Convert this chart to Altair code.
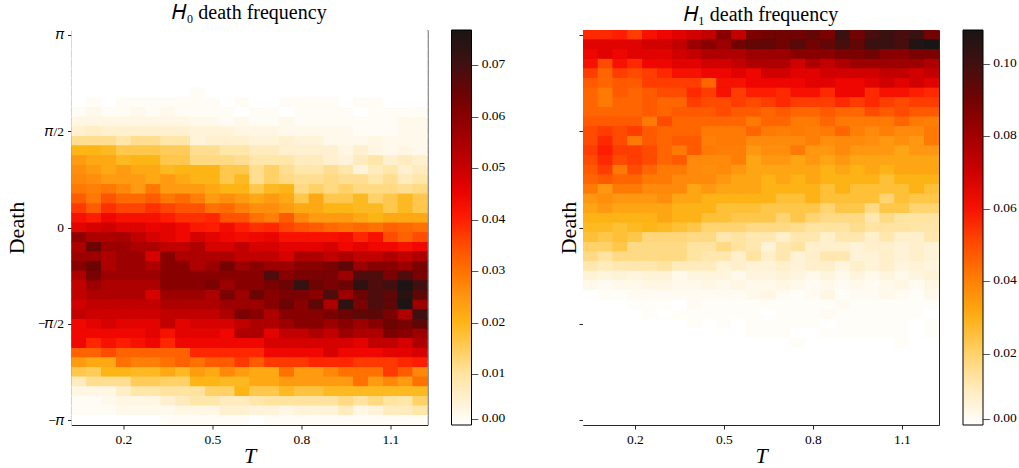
import math
import altair as alt
import pandas as pd

PI = math.pi

# T bin centres (columns) and Death bin centres (rows, top = pi)
t_bins = [0.05, 0.10, 0.15, 0.20, 0.25, 0.30, 0.35, 0.40, 0.45, 0.50, 0.55, 0.60,
          0.65, 0.70, 0.75, 0.80, 0.85, 0.90, 0.95, 1.00, 1.05, 1.10, 1.15, 1.20]
death_bins = [PI * k / 20 for k in range(20, -21, -1)]

# H0 death frequency (units of 1e-3), row 0 = Death pi ... row 40 = Death -pi
h0 = [
    [0] * 24,
    [0] * 24,
    [0] * 24,
    [0] * 24,
    [0] * 24,
    [0] * 24,
    [0, 0, 0, 0, 0, 0, 0, 0, 1, 0, 0, 0, 0, 0, 0, 0, 0, 0, 0, 0, 0, 0, 0, 0],
    [0, 1, 0, 1, 1, 1, 1, 1, 1, 1, 0, 1, 0, 0, 1, 1, 1, 1, 0, 1, 1, 0, 0, 0],
    [1, 2, 1, 1, 2, 1, 2, 1, 1, 1, 1, 0, 1, 1, 0, 1, 1, 1, 1, 0, 1, 1, 1, 1],
    [3, 3, 3, 3, 3, 3, 3, 3, 2, 2, 1, 2, 1, 1, 2, 1, 1, 1, 1, 1, 1, 1, 2, 2],
    [5, 6, 5, 5, 5, 5, 5, 5, 4, 4, 4, 3, 3, 3, 2, 2, 2, 2, 2, 1, 1, 1, 2, 2],
    [11, 11, 11, 9, 11, 11, 9, 9, 4, 5, 5, 5, 4, 4, 5, 4, 4, 2, 2, 2, 3, 2, 2, 2],
    [20, 20, 19, 16, 16, 16, 15, 15, 11, 11, 9, 9, 7, 7, 5, 5, 5, 5, 3, 5, 3, 2, 3, 2],
    [24, 22, 22, 19, 20, 20, 16, 16, 12, 12, 12, 11, 9, 9, 9, 7, 7, 5, 4, 7, 9, 5, 7, 5],
    [26, 24, 22, 24, 22, 22, 19, 20, 20, 20, 16, 16, 11, 14, 11, 9, 9, 11, 9, 4, 7, 9, 5, 7],
    [27, 26, 24, 24, 24, 22, 24, 22, 20, 20, 16, 19, 11, 14, 12, 11, 11, 12, 11, 11, 9, 11, 7, 9],
    [29, 28, 29, 27, 24, 29, 24, 24, 24, 22, 20, 20, 16, 19, 20, 12, 14, 12, 14, 12, 12, 12, 11, 12],
    [33, 29, 34, 31, 31, 33, 29, 31, 28, 24, 26, 24, 22, 24, 22, 16, 22, 16, 16, 19, 14, 16, 19, 16],
    [37, 33, 38, 36, 36, 38, 36, 34, 34, 30, 31, 28, 26, 26, 24, 22, 22, 20, 20, 19, 19, 16, 19, 16],
    [42, 40, 44, 42, 42, 42, 40, 38, 38, 39, 34, 34, 30, 28, 33, 27, 24, 24, 24, 22, 20, 22, 22, 22],
    [46, 48, 49, 47, 47, 45, 46, 44, 41, 40, 43, 40, 38, 39, 36, 34, 33, 31, 30, 31, 30, 32, 31, 30],
    [59, 54, 54, 55, 51, 48, 46, 44, 48, 46, 44, 43, 44, 45, 42, 42, 42, 42, 43, 39, 42, 35, 32, 35],
    [54, 64, 57, 57, 54, 54, 51, 51, 54, 48, 48, 51, 48, 48, 46, 46, 46, 48, 44, 46, 44, 44, 42, 44],
    [57, 57, 54, 57, 57, 48, 60, 54, 54, 54, 54, 51, 51, 51, 48, 54, 54, 51, 54, 51, 51, 54, 51, 54],
    [60, 64, 54, 57, 57, 54, 60, 60, 54, 57, 63, 57, 60, 57, 57, 60, 60, 62, 66, 57, 60, 60, 57, 62],
    [54, 62, 57, 57, 57, 57, 60, 60, 60, 60, 60, 60, 60, 68, 60, 62, 62, 62, 57, 68, 68, 62, 68, 62],
    [51, 57, 54, 54, 54, 54, 60, 60, 60, 62, 57, 60, 60, 62, 64, 72, 64, 62, 64, 73, 68, 70, 76, 70],
    [51, 54, 54, 54, 54, 48, 57, 57, 57, 54, 62, 57, 64, 60, 62, 62, 60, 68, 57, 64, 68, 66, 74, 66],
    [49, 51, 51, 51, 51, 51, 54, 54, 54, 54, 57, 57, 57, 60, 64, 60, 66, 54, 73, 62, 68, 66, 76, 57],
    [51, 49, 49, 49, 49, 49, 51, 51, 51, 51, 54, 62, 60, 54, 60, 60, 60, 62, 64, 66, 66, 62, 54, 70],
    [44, 46, 48, 46, 46, 46, 51, 46, 48, 48, 48, 51, 54, 54, 57, 60, 60, 57, 60, 57, 60, 64, 62, 66],
    [44, 44, 44, 44, 44, 46, 42, 46, 46, 46, 44, 54, 54, 46, 51, 51, 54, 51, 57, 54, 54, 62, 60, 57],
    [44, 39, 42, 40, 42, 44, 39, 44, 44, 44, 44, 44, 44, 48, 48, 48, 48, 48, 48, 46, 51, 51, 48, 54],
    [32, 32, 35, 32, 32, 32, 32, 32, 39, 39, 39, 39, 39, 44, 44, 44, 44, 48, 44, 44, 44, 46, 46, 48],
    [24, 22, 22, 30, 28, 28, 30, 32, 30, 33, 33, 37, 33, 37, 37, 37, 39, 39, 39, 37, 37, 37, 39, 40],
    [16, 15, 20, 20, 19, 19, 22, 19, 24, 22, 27, 24, 22, 22, 30, 24, 24, 27, 30, 30, 30, 37, 33, 27],
    [7, 11, 11, 11, 15, 15, 14, 14, 20, 20, 19, 19, 22, 22, 24, 24, 24, 24, 24, 30, 24, 27, 24, 30],
    [3, 3, 3, 6, 9, 9, 10, 10, 10, 14, 14, 20, 16, 16, 19, 17, 17, 19, 19, 19, 19, 19, 19, 19],
    [1, 1, 2, 3, 3, 3, 5, 7, 9, 9, 7, 7, 9, 10, 10, 10, 10, 10, 12, 10, 12, 10, 9, 14],
    [1, 1, 1, 2, 2, 2, 2, 3, 3, 3, 5, 5, 4, 4, 3, 4, 4, 4, 7, 3, 4, 7, 7, 9],
    [0, 0, 0, 0, 0, 0, 1, 1, 1, 1, 1, 1, 0, 1, 1, 1, 1, 1, 1, 1, 1, 1, 1, 1],
]

# H1 death frequency (units of 1e-3)
h1 = [
    [55, 55, 57, 52, 60, 63, 66, 69, 72, 85, 72, 88, 90, 90, 90, 93, 88, 101, 90, 98, 101, 98, 101, 90],
    [66, 66, 66, 66, 69, 69, 72, 81, 85, 81, 90, 93, 93, 90, 95, 90, 93, 98, 93, 101, 101, 98, 107, 109],
    [63, 66, 63, 66, 66, 66, 69, 72, 77, 77, 77, 81, 81, 81, 85, 85, 85, 88, 88, 90, 85, 85, 88, 88],
    [60, 50, 60, 55, 63, 63, 66, 66, 69, 69, 72, 77, 77, 77, 69, 77, 72, 77, 81, 81, 81, 81, 81, 77],
    [52, 45, 52, 50, 52, 55, 60, 60, 63, 63, 66, 63, 69, 69, 66, 66, 69, 69, 69, 69, 72, 72, 69, 72],
    [47, 45, 47, 47, 52, 52, 52, 52, 45, 60, 60, 63, 63, 63, 63, 66, 66, 63, 63, 66, 69, 66, 69, 66],
    [45, 41, 47, 45, 47, 50, 50, 55, 52, 60, 52, 57, 57, 55, 60, 60, 55, 63, 63, 55, 60, 60, 57, 55],
    [45, 41, 45, 45, 47, 45, 45, 52, 50, 50, 52, 50, 52, 55, 52, 52, 52, 55, 52, 55, 52, 50, 52, 52],
    [45, 45, 45, 45, 47, 45, 47, 47, 47, 50, 47, 47, 45, 47, 45, 45, 47, 45, 45, 50, 47, 50, 47, 47],
    [47, 47, 47, 47, 41, 50, 45, 45, 45, 45, 45, 41, 45, 45, 41, 41, 45, 41, 41, 41, 41, 45, 41, 40],
    [50, 52, 50, 52, 47, 45, 45, 45, 41, 41, 41, 45, 41, 40, 41, 40, 41, 45, 40, 38, 40, 38, 38, 41],
    [50, 55, 50, 41, 47, 45, 47, 47, 40, 41, 41, 38, 38, 38, 38, 40, 37, 38, 38, 37, 35, 37, 35, 41],
    [52, 57, 52, 52, 50, 45, 41, 47, 41, 40, 40, 35, 37, 37, 41, 35, 35, 38, 35, 35, 35, 32, 35, 35],
    [50, 55, 50, 52, 50, 45, 47, 38, 38, 38, 40, 32, 35, 35, 32, 35, 32, 35, 32, 32, 32, 32, 32, 32],
    [47, 52, 41, 50, 45, 41, 41, 38, 37, 38, 35, 32, 32, 32, 32, 32, 29, 32, 29, 32, 29, 32, 32, 32],
    [45, 47, 45, 45, 41, 41, 38, 38, 38, 35, 32, 32, 29, 32, 29, 32, 29, 29, 29, 29, 25, 29, 29, 29],
    [41, 35, 41, 41, 38, 38, 38, 32, 35, 32, 32, 32, 29, 29, 29, 29, 25, 29, 25, 25, 25, 25, 29, 25],
    [35, 37, 35, 35, 35, 37, 32, 32, 29, 29, 29, 29, 29, 25, 25, 29, 25, 25, 25, 25, 19, 25, 23, 23],
    [32, 35, 32, 32, 32, 32, 29, 29, 29, 25, 25, 25, 23, 23, 23, 23, 19, 23, 23, 17, 23, 23, 19, 19],
    [29, 29, 29, 29, 29, 32, 29, 29, 25, 25, 23, 23, 23, 19, 23, 19, 17, 17, 17, 12, 17, 14, 14, 14],
    [27, 27, 25, 27, 28, 27, 25, 23, 19, 19, 19, 17, 17, 17, 16, 14, 14, 14, 16, 14, 14, 14, 13, 13],
    [25, 23, 25, 23, 18, 18, 18, 17, 17, 12, 14, 12, 12, 8, 12, 12, 8, 12, 12, 8, 12, 8, 8, 12],
    [20, 20, 23, 17, 17, 17, 17, 14, 14, 17, 14, 12, 6, 12, 14, 8, 8, 8, 6, 8, 8, 6, 8, 6],
    [17, 14, 17, 17, 17, 17, 17, 14, 12, 12, 8, 14, 8, 12, 6, 8, 12, 12, 6, 6, 8, 6, 8, 6],
    [12, 10, 12, 12, 12, 14, 10, 10, 10, 6, 8, 6, 6, 8, 6, 8, 8, 5, 8, 6, 8, 5, 6, 5],
    [6, 5, 6, 5, 6, 6, 3, 5, 5, 5, 3, 5, 5, 6, 5, 3, 5, 3, 5, 3, 5, 3, 5, 6],
    [3, 2, 3, 3, 4, 4, 3, 3, 4, 3, 4, 3, 3, 4, 3, 2, 3, 2, 3, 2, 3, 4, 2, 4],
    [0, 1, 1, 2, 2, 2, 2, 2, 2, 2, 2, 3, 4, 2, 1, 2, 4, 1, 2, 2, 3, 2, 1, 3],
    [0, 0, 0, 1, 1, 1, 0, 2, 1, 1, 1, 1, 1, 1, 1, 1, 1, 2, 1, 1, 1, 1, 1, 1],
    [0, 0, 0, 0, 1, 0, 1, 1, 1, 1, 1, 1, 0, 1, 1, 1, 2, 1, 1, 1, 1, 1, 1, 0],
    [0, 0, 0, 0, 0, 0, 0, 1, 0, 1, 0, 1, 1, 1, 1, 1, 0, 1, 1, 1, 1, 1, 0, 1],
    [0, 0, 0, 0, 0, 0, 0, 0, 0, 0, 0, 1, 1, 1, 0, 0, 1, 1, 1, 1, 1, 1, 0, 1],
    [0, 0, 0, 0, 0, 0, 0, 0, 0, 0, 0, 0, 0, 0, 1, 0, 0, 0, 0, 0, 0, 1, 0, 0],
    [0] * 24,
    [0] * 24,
    [0] * 24,
    [0] * 24,
    [0] * 24,
    [0] * 24,
    [0] * 24,
    [0] * 24,
]

h0_max = 0.0766
h1_max = 0.109
h0_ticks = [0.00, 0.01, 0.02, 0.03, 0.04, 0.05, 0.06, 0.07]
h1_ticks = [0.00, 0.02, 0.04, 0.06, 0.08, 0.10]
x_ticks = [0.2, 0.5, 0.8, 1.1]
y_ticks = [-PI, -PI / 2, 0, PI / 2, PI]

# colormap (white -> amber -> red -> black)
cmap_pos = [0.0, 0.065, 0.13, 0.2, 0.26, 0.33, 0.39, 0.46, 0.52, 0.58, 0.65, 0.72, 0.78, 0.85, 0.91, 1.0]
cmap_col = ["#ffffff", "#fff1d0", "#ffe3a0", "#ffcb55", "#fdb515", "#ff9310", "#ff7200",
            "#ff4a00", "#ff1e00", "#ee0500", "#c80000", "#a80000", "#8a0000", "#650505",
            "#421010", "#191515"]

FONT = "Liberation Serif"
W, H = 356, 395
HALF_T = 0.025
HALF_D = PI / 40
# slightly enlarged underlay so anti-aliased seams between cells do not show white
UNDER_T = 0.0275
UNDER_D = PI / 40 * 1.15


def table(grid):
    rows = []
    for k, d in enumerate(death_bins):
        for j, t in enumerate(t_bins):
            rows.append({"T": t, "Death": d, "freq": grid[k][j] / 1000.0})
    return pd.DataFrame(rows)


def panel(grid, vmax, ticks, title_text, show_labels, title_x):
    scale = alt.Scale(domain=[p * vmax for p in cmap_pos], range=cmap_col,
                      interpolate="rgb", clamp=True)
    if show_labels:
        yaxis = alt.Axis(values=y_ticks, title="Death", titleX=title_x,
                         labelExpr="datum.value > 3 ? '𝜋' : datum.value > 1 ? '𝜋/2' : "
                                   "datum.value > -1 ? '0' : datum.value > -2 ? '−𝜋/2' : '−𝜋'")
    else:
        yaxis = alt.Axis(values=y_ticks, title="Death", titleX=title_x, labels=False)

    xs = alt.Scale(domain=[0.025, 1.225], nice=False, zero=False)
    ys = alt.Scale(domain=[-PI - PI / 40, PI + PI / 40], nice=False, zero=False)
    color = alt.Color("freq:Q", scale=scale,
                      legend=alt.Legend(type="gradient", values=ticks, title=None,
                                        labelExpr="'– ' + format(datum.value, '.2f')",
                                        gradientLength=H, gradientThickness=20,
                                        offset=23.5, labelOffset=0,
                                        labelBaseline="middle"))
    base = alt.Chart(table(grid)).transform_calculate(
        x0=f"datum.T - {HALF_T}", x1=f"datum.T + {HALF_T}",
        y0=f"datum.Death - {HALF_D}", y1=f"datum.Death + {HALF_D}",
        u0=f"datum.T - {UNDER_T}", u1=f"datum.T + {UNDER_T}",
        v0=f"datum.Death - {UNDER_D}", v1=f"datum.Death + {UNDER_D}",
    )
    under = base.mark_rect(clip=True).encode(
        x=alt.X("u0:Q", scale=xs, axis=alt.Axis(values=x_ticks, format=".1f", title="T",
                                                titleFontStyle="italic")),
        x2="u1:Q",
        y=alt.Y("v0:Q", scale=ys, axis=yaxis),
        y2="v1:Q",
        color=color,
    )
    cells = base.mark_rect(clip=True).encode(
        x=alt.X("x0:Q", scale=xs),
        x2="x1:Q",
        y=alt.Y("y0:Q", scale=ys),
        y2="y1:Q",
        color=color,
    )
    return alt.layer(under, cells).properties(
        width=W, height=H,
        title=alt.TitleParams(text=title_text, font=FONT, fontSize=20,
                              fontWeight="normal", color="black", offset=5),
    )


left = panel(h0, h0_max, h0_ticks, "𝐻₀ death frequency", True, -43)
right = panel(h1, h1_max, h1_ticks, "𝐻₁ death frequency", False, -3)

chart = (
    alt.hconcat(left, right, spacing=155.5, bounds="flush")
    .resolve_scale(color="independent")
    .resolve_legend(color="independent")
    .properties(padding={"left": 4.5, "top": 2, "right": 0, "bottom": 0})
    .configure_view(stroke="#262626", strokeWidth=1)
    .configure_axis(
        domain=False, grid=False, tickColor="#262626", tickSize=4, tickWidth=1,
        labelFont=FONT, labelFontSize=13.5, labelColor="black", labelPadding=4,
        titleFont=FONT, titleFontSize=22, titleFontWeight="normal", titleColor="black",
    )
    .configure_axisX(titlePadding=0, labelPadding=3)
    .configure_legend(labelFont=FONT, labelFontSize=13.5, labelColor="black",
                      gradientStrokeColor="black", gradientStrokeWidth=1, padding=0)
)

chart.save("out.html", embed_options={"renderer": "svg", "actions": False})
